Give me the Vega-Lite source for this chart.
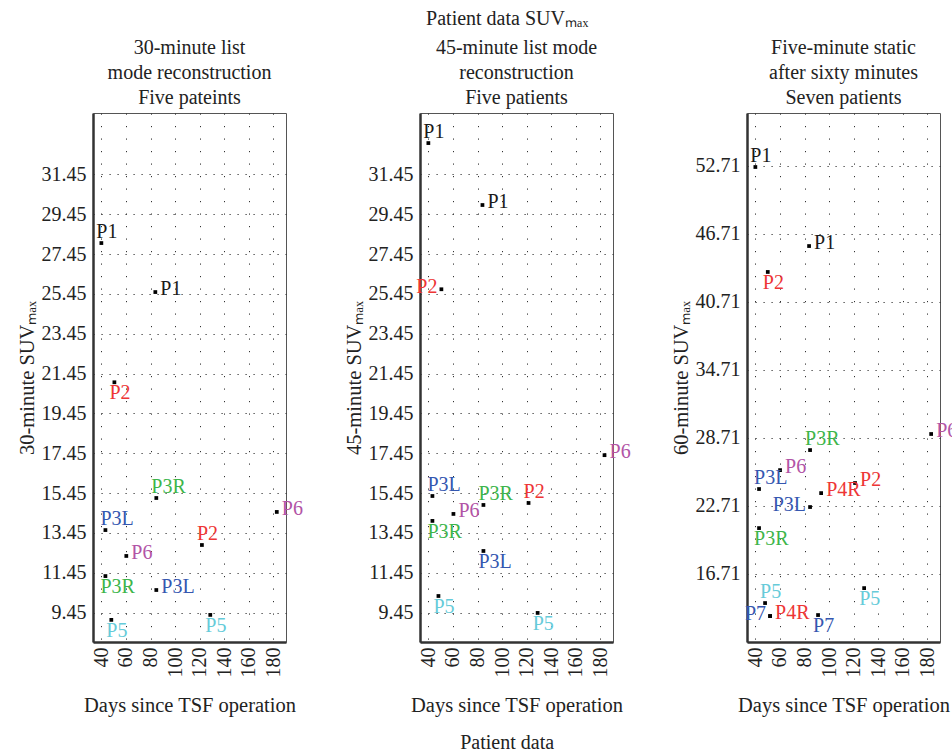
{
  "$schema": "https://vega.github.io/schema/vega-lite/v6.json",
  "background": "white",
  "padding": {"left": 16, "top": 8, "right": 0, "bottom": 0},
  "config": {
    "font": "Liberation Serif",
    "view": {"stroke": "#555", "strokeWidth": 1},
    "axis": {"labelFont": "Liberation Serif", "labelFontSize": 20, "labelColor": "#222", "titleFont": "Liberation Serif", "titleFontSize": 20.5, "titleFontWeight": "normal", "titleColor": "#222", "domainColor": "#333", "domainWidth": 2.5, "gridColor": "#333", "gridOpacity": 1, "gridWidth": 1, "ticks": false},
    "axisX": {"gridDash": [1.2, 11.3], "labelAngle": 270, "labelPadding": 5, "titlePadding": 18},
    "axisY": {"gridDash": [1.2, 6.8], "labelPadding": 7, "titlePadding": 4},
    "title": {"font": "Liberation Serif", "fontSize": 20, "fontWeight": "normal", "color": "#222", "lineHeight": 25}
  },
  "datasets": {
    "d30": [
      {"patient": "P1", "days": 40, "suv": 28.0, "side": "above"},
      {"patient": "P1", "days": 83.9, "suv": 25.54, "side": "right"},
      {"patient": "P2", "days": 50.6, "suv": 21.01, "side": "below"},
      {"patient": "P3R", "days": 84.7, "suv": 15.2, "side": "above"},
      {"patient": "P6", "days": 182.7, "suv": 14.5, "side": "right"},
      {"patient": "P3L", "days": 43.3, "suv": 13.59, "side": "above"},
      {"patient": "P2", "days": 121.8, "suv": 12.84, "side": "above"},
      {"patient": "P6", "days": 60.3, "suv": 12.29, "side": "right"},
      {"patient": "P3R", "days": 43.3, "suv": 11.28, "side": "below"},
      {"patient": "P3L", "days": 84.7, "suv": 10.58, "side": "right"},
      {"patient": "P5", "days": 48.1, "suv": 9.08, "side": "below"},
      {"patient": "P5", "days": 128.6, "suv": 9.33, "side": "below"}
    ],
    "d45": [
      {"patient": "P1", "days": 40, "suv": 33.02, "side": "above"},
      {"patient": "P1", "days": 84.0, "suv": 29.91, "side": "right"},
      {"patient": "P2", "days": 50.6, "suv": 25.68, "side": "left"},
      {"patient": "P6", "days": 183.3, "suv": 17.35, "side": "right"},
      {"patient": "P3L", "days": 43.3, "suv": 15.3, "side": "above"},
      {"patient": "P2", "days": 121.5, "suv": 14.95, "side": "above"},
      {"patient": "P3R", "days": 84.8, "suv": 14.85, "side": "above"},
      {"patient": "P6", "days": 60.4, "suv": 14.4, "side": "right"},
      {"patient": "P3R", "days": 43.3, "suv": 14.05, "side": "below"},
      {"patient": "P3L", "days": 84.8, "suv": 12.54, "side": "below"},
      {"patient": "P5", "days": 48.2, "suv": 10.28, "side": "below"},
      {"patient": "P5", "days": 128.9, "suv": 9.43, "side": "below"}
    ],
    "d60": [
      {"patient": "P1", "days": 40, "suv": 52.62, "side": "above"},
      {"patient": "P1", "days": 83.7, "suv": 45.64, "side": "right"},
      {"patient": "P2", "days": 50.1, "suv": 43.35, "side": "below"},
      {"patient": "P6", "days": 183.0, "suv": 29.04, "side": "right"},
      {"patient": "P3R", "days": 84.5, "suv": 27.62, "side": "above"},
      {"patient": "P6", "days": 60.1, "suv": 25.85, "side": "right"},
      {"patient": "P2", "days": 121.1, "suv": 24.71, "side": "right"},
      {"patient": "P3L", "days": 43.0, "suv": 24.18, "side": "above"},
      {"patient": "P4R", "days": 93.5, "suv": 23.82, "side": "right"},
      {"patient": "P3L", "days": 84.5, "suv": 22.59, "side": "left"},
      {"patient": "P3R", "days": 43.0, "suv": 20.73, "side": "below"},
      {"patient": "P5", "days": 128.5, "suv": 15.43, "side": "below"},
      {"patient": "P5", "days": 47.9, "suv": 14.11, "side": "above"},
      {"patient": "P7", "days": 52.0, "suv": 12.96, "side": "left"},
      {"patient": "P4R", "days": 52.0, "suv": 12.96, "side": "right"},
      {"patient": "P7", "days": 91.0, "suv": 13.05, "side": "below"}
    ]
  },
  "title": {"text": "Patient data", "orient": "bottom", "anchor": "middle", "offset": 17, "dx": 20},
  "vconcat": [
    {
      "title": {"text": "Patient data SUVₘₐₓ", "anchor": "middle", "offset": 9, "dx": 20},
      "bounds": "flush",
      "spacing": 134,
      "hconcat": [
        {
          "width": 193, "height": 529,
          "data": {"name": "d30"},
          "title": {"text": ["30-minute list", "mode reconstruction", "Five pateints"], "anchor": "middle", "offset": 5},
          "encoding": {
            "x": {"field": "days", "type": "quantitative", "scale": {"domain": [33.2, 190.2], "nice": false, "zero": false}, "axis": {"values": [40, 60, 80, 100, 120, 140, 160, 180], "title": "Days since TSF operation"}},
            "y": {"field": "suv", "type": "quantitative", "scale": {"domain": [7.97, 34.53], "nice": false, "zero": false}, "axis": {"values": [9.45, 11.45, 13.45, 15.45, 17.45, 19.45, 21.45, 23.45, 25.45, 27.45, 29.45, 31.45], "format": ".2f", "title": "30-minute SUVₘₐₓ"}},
            "color": {"field": "patient", "type": "nominal", "legend": null, "scale": {"domain": ["P1", "P2", "P3L", "P3R", "P4R", "P5", "P6", "P7"], "range": ["#1a1a1a", "#ee3535", "#3557b0", "#3db54a", "#ee3535", "#66cbd9", "#b254a6", "#3557b0"]}},
            "text": {"field": "patient"}
          },
          "layer": [
            {"mark": {"type": "point", "shape": "square", "size": 14, "filled": true, "color": "#000", "opacity": 1}, "encoding": {"color": {"value": "#000"}}},
            {"transform": [{"filter": "datum.side == 'above'"}], "mark": {"type": "text", "align": "left", "baseline": "alphabetic", "dx": -5, "dy": -5, "fontSize": 20}},
            {"transform": [{"filter": "datum.side == 'below'"}], "mark": {"type": "text", "align": "left", "baseline": "alphabetic", "dx": -5, "dy": 17, "fontSize": 20}},
            {"transform": [{"filter": "datum.side == 'right'"}], "mark": {"type": "text", "align": "left", "baseline": "alphabetic", "dx": 5, "dy": 3, "fontSize": 20}},
            {"transform": [{"filter": "datum.side == 'left'"}], "mark": {"type": "text", "align": "right", "baseline": "alphabetic", "dx": -4, "dy": 4, "fontSize": 20}}
          ]
        },
        {
          "width": 193, "height": 529,
          "data": {"name": "d45"},
          "title": {"text": ["45-minute list mode", "reconstruction", "Five patients"], "anchor": "middle", "offset": 5},
          "encoding": {
            "x": {"field": "days", "type": "quantitative", "scale": {"domain": [33.2, 190.2], "nice": false, "zero": false}, "axis": {"values": [40, 60, 80, 100, 120, 140, 160, 180], "title": "Days since TSF operation"}},
            "y": {"field": "suv", "type": "quantitative", "scale": {"domain": [7.97, 34.53], "nice": false, "zero": false}, "axis": {"values": [9.45, 11.45, 13.45, 15.45, 17.45, 19.45, 21.45, 23.45, 25.45, 27.45, 29.45, 31.45], "format": ".2f", "title": "45-minute SUVₘₐₓ"}},
            "color": {"field": "patient", "type": "nominal", "legend": null, "scale": {"domain": ["P1", "P2", "P3L", "P3R", "P4R", "P5", "P6", "P7"], "range": ["#1a1a1a", "#ee3535", "#3557b0", "#3db54a", "#ee3535", "#66cbd9", "#b254a6", "#3557b0"]}},
            "text": {"field": "patient"}
          },
          "layer": [
            {"mark": {"type": "point", "shape": "square", "size": 14, "filled": true, "color": "#000", "opacity": 1}, "encoding": {"color": {"value": "#000"}}},
            {"transform": [{"filter": "datum.side == 'above'"}], "mark": {"type": "text", "align": "left", "baseline": "alphabetic", "dx": -5, "dy": -5, "fontSize": 20}},
            {"transform": [{"filter": "datum.side == 'below'"}], "mark": {"type": "text", "align": "left", "baseline": "alphabetic", "dx": -5, "dy": 17, "fontSize": 20}},
            {"transform": [{"filter": "datum.side == 'right'"}], "mark": {"type": "text", "align": "left", "baseline": "alphabetic", "dx": 5, "dy": 3, "fontSize": 20}},
            {"transform": [{"filter": "datum.side == 'left'"}], "mark": {"type": "text", "align": "right", "baseline": "alphabetic", "dx": -4, "dy": 4, "fontSize": 20}}
          ]
        },
        {
          "width": 193, "height": 529,
          "data": {"name": "d60"},
          "title": {"text": ["Five-minute static", "after sixty minutes", "Seven patients"], "anchor": "middle", "offset": 5},
          "encoding": {
            "x": {"field": "days", "type": "quantitative", "scale": {"domain": [33.2, 190.2], "nice": false, "zero": false}, "axis": {"values": [40, 60, 80, 100, 120, 140, 160, 180], "title": "Days since TSF operation"}},
            "y": {"field": "suv", "type": "quantitative", "scale": {"domain": [10.67, 57.39], "nice": false, "zero": false}, "axis": {"values": [16.71, 22.71, 28.71, 34.71, 40.71, 46.71, 52.71], "format": ".2f", "title": "60-minute SUVₘₐₓ"}},
            "color": {"field": "patient", "type": "nominal", "legend": null, "scale": {"domain": ["P1", "P2", "P3L", "P3R", "P4R", "P5", "P6", "P7"], "range": ["#1a1a1a", "#ee3535", "#3557b0", "#3db54a", "#ee3535", "#66cbd9", "#b254a6", "#3557b0"]}},
            "text": {"field": "patient"}
          },
          "layer": [
            {"mark": {"type": "point", "shape": "square", "size": 14, "filled": true, "color": "#000", "opacity": 1}, "encoding": {"color": {"value": "#000"}}},
            {"transform": [{"filter": "datum.side == 'above'"}], "mark": {"type": "text", "align": "left", "baseline": "alphabetic", "dx": -5, "dy": -5, "fontSize": 20}},
            {"transform": [{"filter": "datum.side == 'below'"}], "mark": {"type": "text", "align": "left", "baseline": "alphabetic", "dx": -5, "dy": 17, "fontSize": 20}},
            {"transform": [{"filter": "datum.side == 'right'"}], "mark": {"type": "text", "align": "left", "baseline": "alphabetic", "dx": 5, "dy": 3, "fontSize": 20}},
            {"transform": [{"filter": "datum.side == 'left'"}], "mark": {"type": "text", "align": "right", "baseline": "alphabetic", "dx": -4, "dy": 4, "fontSize": 20}}
          ]
        }
      ]
    }
  ]
}
